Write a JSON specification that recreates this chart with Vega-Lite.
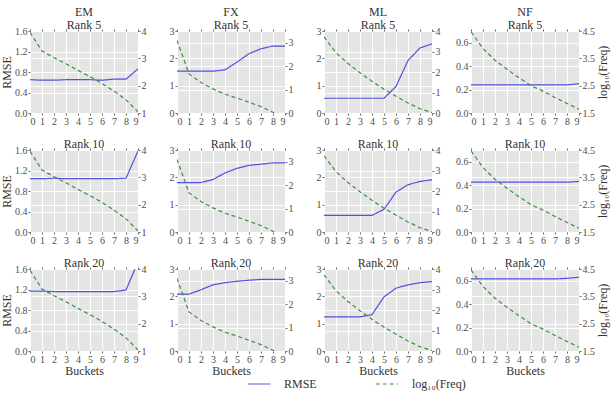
{
"$schema":"https://vega.github.io/schema/vega-lite/v6.json",
"padding":{"left":0,"top":6,"right":3,"bottom":3},
"bounds":"flush",
"columns":4,
"spacing":{"row":37,"column":39},
"data":{"values":[
{"m":"EM","r":5,"b":0,"y":0.65,"f":3.95},{"m":"EM","r":5,"b":1,"y":0.64,"f":3.27},{"m":"EM","r":5,"b":2,"y":0.64,"f":3.02},{"m":"EM","r":5,"b":3,"y":0.65,"f":2.8},{"m":"EM","r":5,"b":4,"y":0.65,"f":2.56},{"m":"EM","r":5,"b":5,"y":0.65,"f":2.33},{"m":"EM","r":5,"b":6,"y":0.64,"f":2.08},{"m":"EM","r":5,"b":7,"y":0.66,"f":1.8},{"m":"EM","r":5,"b":8,"y":0.66,"f":1.48},{"m":"EM","r":5,"b":9,"y":0.86,"f":1.04},
{"m":"EM","r":10,"b":0,"y":1.04,"f":3.95},{"m":"EM","r":10,"b":1,"y":1.04,"f":3.27},{"m":"EM","r":10,"b":2,"y":1.05,"f":3.02},{"m":"EM","r":10,"b":3,"y":1.04,"f":2.8},{"m":"EM","r":10,"b":4,"y":1.04,"f":2.56},{"m":"EM","r":10,"b":5,"y":1.04,"f":2.33},{"m":"EM","r":10,"b":6,"y":1.04,"f":2.08},{"m":"EM","r":10,"b":7,"y":1.04,"f":1.8},{"m":"EM","r":10,"b":8,"y":1.05,"f":1.48},{"m":"EM","r":10,"b":9,"y":1.58,"f":1.04},
{"m":"EM","r":20,"b":0,"y":1.17,"f":3.95},{"m":"EM","r":20,"b":1,"y":1.17,"f":3.27},{"m":"EM","r":20,"b":2,"y":1.16,"f":3.02},{"m":"EM","r":20,"b":3,"y":1.16,"f":2.8},{"m":"EM","r":20,"b":4,"y":1.16,"f":2.56},{"m":"EM","r":20,"b":5,"y":1.16,"f":2.33},{"m":"EM","r":20,"b":6,"y":1.16,"f":2.08},{"m":"EM","r":20,"b":7,"y":1.16,"f":1.8},{"m":"EM","r":20,"b":8,"y":1.19,"f":1.48},{"m":"EM","r":20,"b":9,"y":1.74,"f":1.04},
{"m":"FX","r":5,"b":0,"y":1.53,"f":3.1},{"m":"FX","r":5,"b":1,"y":1.53,"f":1.67},{"m":"FX","r":5,"b":2,"y":1.53,"f":1.3},{"m":"FX","r":5,"b":3,"y":1.53,"f":1.03},{"m":"FX","r":5,"b":4,"y":1.58,"f":0.8},{"m":"FX","r":5,"b":5,"y":1.86,"f":0.64},{"m":"FX","r":5,"b":6,"y":2.17,"f":0.46},{"m":"FX","r":5,"b":7,"y":2.35,"f":0.27},{"m":"FX","r":5,"b":8,"y":2.45,"f":0.03},{"m":"FX","r":5,"b":9,"y":2.45,"f":-0.4},
{"m":"FX","r":10,"b":0,"y":1.81,"f":3.1},{"m":"FX","r":10,"b":1,"y":1.81,"f":1.67},{"m":"FX","r":10,"b":2,"y":1.81,"f":1.3},{"m":"FX","r":10,"b":3,"y":1.92,"f":1.03},{"m":"FX","r":10,"b":4,"y":2.16,"f":0.8},{"m":"FX","r":10,"b":5,"y":2.33,"f":0.64},{"m":"FX","r":10,"b":6,"y":2.44,"f":0.46},{"m":"FX","r":10,"b":7,"y":2.48,"f":0.27},{"m":"FX","r":10,"b":8,"y":2.53,"f":0.03},{"m":"FX","r":10,"b":9,"y":2.53,"f":-0.4},
{"m":"FX","r":20,"b":0,"y":2.08,"f":3.1},{"m":"FX","r":20,"b":1,"y":2.08,"f":1.67},{"m":"FX","r":20,"b":2,"y":2.24,"f":1.3},{"m":"FX","r":20,"b":3,"y":2.42,"f":1.03},{"m":"FX","r":20,"b":4,"y":2.5,"f":0.8},{"m":"FX","r":20,"b":5,"y":2.55,"f":0.64},{"m":"FX","r":20,"b":6,"y":2.59,"f":0.46},{"m":"FX","r":20,"b":7,"y":2.62,"f":0.27},{"m":"FX","r":20,"b":8,"y":2.62,"f":0.03},{"m":"FX","r":20,"b":9,"y":2.62,"f":-0.4},
{"m":"ML","r":5,"b":0,"y":0.54,"f":3.72},{"m":"ML","r":5,"b":1,"y":0.54,"f":2.94},{"m":"ML","r":5,"b":2,"y":0.54,"f":2.41},{"m":"ML","r":5,"b":3,"y":0.54,"f":1.96},{"m":"ML","r":5,"b":4,"y":0.54,"f":1.55},{"m":"ML","r":5,"b":5,"y":0.54,"f":1.16},{"m":"ML","r":5,"b":6,"y":0.97,"f":0.82},{"m":"ML","r":5,"b":7,"y":1.92,"f":0.49},{"m":"ML","r":5,"b":8,"y":2.38,"f":0.21},{"m":"ML","r":5,"b":9,"y":2.53,"f":0.02},
{"m":"ML","r":10,"b":0,"y":0.61,"f":3.72},{"m":"ML","r":10,"b":1,"y":0.61,"f":2.94},{"m":"ML","r":10,"b":2,"y":0.61,"f":2.41},{"m":"ML","r":10,"b":3,"y":0.61,"f":1.96},{"m":"ML","r":10,"b":4,"y":0.61,"f":1.55},{"m":"ML","r":10,"b":5,"y":0.83,"f":1.16},{"m":"ML","r":10,"b":6,"y":1.46,"f":0.82},{"m":"ML","r":10,"b":7,"y":1.73,"f":0.49},{"m":"ML","r":10,"b":8,"y":1.85,"f":0.21},{"m":"ML","r":10,"b":9,"y":1.91,"f":0.02},
{"m":"ML","r":20,"b":0,"y":1.25,"f":3.72},{"m":"ML","r":20,"b":1,"y":1.25,"f":2.94},{"m":"ML","r":20,"b":2,"y":1.25,"f":2.41},{"m":"ML","r":20,"b":3,"y":1.25,"f":1.96},{"m":"ML","r":20,"b":4,"y":1.33,"f":1.55},{"m":"ML","r":20,"b":5,"y":1.98,"f":1.16},{"m":"ML","r":20,"b":6,"y":2.3,"f":0.82},{"m":"ML","r":20,"b":7,"y":2.42,"f":0.49},{"m":"ML","r":20,"b":8,"y":2.5,"f":0.21},{"m":"ML","r":20,"b":9,"y":2.54,"f":0.02},
{"m":"NF","r":5,"b":0,"y":0.24,"f":4.47},{"m":"NF","r":5,"b":1,"y":0.24,"f":3.86},{"m":"NF","r":5,"b":2,"y":0.24,"f":3.43},{"m":"NF","r":5,"b":3,"y":0.24,"f":3.1},{"m":"NF","r":5,"b":4,"y":0.24,"f":2.79},{"m":"NF","r":5,"b":5,"y":0.24,"f":2.5},{"m":"NF","r":5,"b":6,"y":0.24,"f":2.3},{"m":"NF","r":5,"b":7,"y":0.24,"f":2.07},{"m":"NF","r":5,"b":8,"y":0.24,"f":1.85},{"m":"NF","r":5,"b":9,"y":0.25,"f":1.64},
{"m":"NF","r":10,"b":0,"y":0.425,"f":4.47},{"m":"NF","r":10,"b":1,"y":0.425,"f":3.86},{"m":"NF","r":10,"b":2,"y":0.425,"f":3.43},{"m":"NF","r":10,"b":3,"y":0.425,"f":3.1},{"m":"NF","r":10,"b":4,"y":0.425,"f":2.79},{"m":"NF","r":10,"b":5,"y":0.425,"f":2.5},{"m":"NF","r":10,"b":6,"y":0.425,"f":2.3},{"m":"NF","r":10,"b":7,"y":0.425,"f":2.07},{"m":"NF","r":10,"b":8,"y":0.425,"f":1.85},{"m":"NF","r":10,"b":9,"y":0.432,"f":1.64},
{"m":"NF","r":20,"b":0,"y":0.615,"f":4.47},{"m":"NF","r":20,"b":1,"y":0.615,"f":3.86},{"m":"NF","r":20,"b":2,"y":0.615,"f":3.43},{"m":"NF","r":20,"b":3,"y":0.615,"f":3.1},{"m":"NF","r":20,"b":4,"y":0.615,"f":2.79},{"m":"NF","r":20,"b":5,"y":0.615,"f":2.5},{"m":"NF","r":20,"b":6,"y":0.615,"f":2.3},{"m":"NF","r":20,"b":7,"y":0.615,"f":2.07},{"m":"NF","r":20,"b":8,"y":0.62,"f":1.85},{"m":"NF","r":20,"b":9,"y":0.63,"f":1.64}
]},
"concat":[
{"width":108,"height":82,"title":{"text":["EM","Rank 5"]},"transform":[{"filter":"datum.m=='EM' && datum.r==5"}],
 "layer":[
  {"mark":{"type":"line","clip":true},"encoding":{"x":{"field":"b","type":"quantitative","scale":{"domain":[0,9],"nice":false},"axis":{"values":[0,1,2,3,4,5,6,7,8,9],"title":null,"grid":true}},"y":{"field":"y","type":"quantitative","scale":{"domain":[0,1.6],"nice":false},"axis":{"values":[0,0.4,0.8,1.2,1.6],"format":".1f","title":"RMSE","grid":true}},"color":{"datum":"RMSE","type":"nominal","scale":{"domain":["RMSE","log₁₀(Freq)"],"range":["#5252dd","#3b8f3b"]},"legend":{"title":null}},"strokeDash":{"datum":"RMSE","type":"nominal","scale":{"domain":["RMSE","log₁₀(Freq)"],"range":[[1,0],[4,3]]},"legend":{"title":null}}}},
  {"mark":{"type":"line","clip":true},"encoding":{"x":{"field":"b","type":"quantitative","scale":{"domain":[0,9],"nice":false},"axis":{"orient":"top","values":[0,1,2,3,4,5,6,7,8,9],"labels":false,"title":null,"grid":false,"tickSize":2}},"y":{"field":"f","type":"quantitative","scale":{"domain":[1,4],"nice":false,"zero":false},"axis":{"orient":"right","values":[1,2,3,4],"title":null,"grid":true}},"color":{"datum":"log₁₀(Freq)","type":"nominal","legend":{"title":null}},"strokeDash":{"datum":"log₁₀(Freq)","type":"nominal","legend":{"title":null}}}}
 ],"resolve":{"scale":{"y":"independent"},"axis":{"x":"independent"}}},
{"width":108,"height":82,"title":{"text":["FX","Rank 5"]},"transform":[{"filter":"datum.m=='FX' && datum.r==5"}],
 "layer":[
  {"mark":{"type":"line","clip":true},"encoding":{"x":{"field":"b","type":"quantitative","scale":{"domain":[0,9],"nice":false},"axis":{"values":[0,1,2,3,4,5,6,7,8,9],"title":null,"grid":true}},"y":{"field":"y","type":"quantitative","scale":{"domain":[0,3],"nice":false},"axis":{"values":[0,1,2,3],"title":null,"grid":true}},"color":{"datum":"RMSE","type":"nominal","legend":{"title":null}},"strokeDash":{"datum":"RMSE","type":"nominal","legend":{"title":null}}}},
  {"mark":{"type":"line","clip":true},"encoding":{"x":{"field":"b","type":"quantitative","scale":{"domain":[0,9],"nice":false},"axis":{"orient":"top","values":[0,1,2,3,4,5,6,7,8,9],"labels":false,"title":null,"grid":false,"tickSize":2}},"y":{"field":"f","type":"quantitative","scale":{"domain":[0,3.5],"nice":false,"zero":false},"axis":{"orient":"right","values":[0,1,2,3],"title":null,"grid":true}},"color":{"datum":"log₁₀(Freq)","type":"nominal","legend":{"title":null}},"strokeDash":{"datum":"log₁₀(Freq)","type":"nominal","legend":{"title":null}}}}
 ],"resolve":{"scale":{"y":"independent"},"axis":{"x":"independent"}}},
{"width":108,"height":82,"title":{"text":["ML","Rank 5"]},"transform":[{"filter":"datum.m=='ML' && datum.r==5"}],
 "layer":[
  {"mark":{"type":"line","clip":true},"encoding":{"x":{"field":"b","type":"quantitative","scale":{"domain":[0,9],"nice":false},"axis":{"values":[0,1,2,3,4,5,6,7,8,9],"title":null,"grid":true}},"y":{"field":"y","type":"quantitative","scale":{"domain":[0,3],"nice":false},"axis":{"values":[0,1,2,3],"title":null,"grid":true}},"color":{"datum":"RMSE","type":"nominal","legend":{"title":null}},"strokeDash":{"datum":"RMSE","type":"nominal","legend":{"title":null}}}},
  {"mark":{"type":"line","clip":true},"encoding":{"x":{"field":"b","type":"quantitative","scale":{"domain":[0,9],"nice":false},"axis":{"orient":"top","values":[0,1,2,3,4,5,6,7,8,9],"labels":false,"title":null,"grid":false,"tickSize":2}},"y":{"field":"f","type":"quantitative","scale":{"domain":[0,4],"nice":false,"zero":false},"axis":{"orient":"right","values":[0,1,2,3,4],"title":null,"grid":true}},"color":{"datum":"log₁₀(Freq)","type":"nominal","legend":{"title":null}},"strokeDash":{"datum":"log₁₀(Freq)","type":"nominal","legend":{"title":null}}}}
 ],"resolve":{"scale":{"y":"independent"},"axis":{"x":"independent"}}},
{"width":108,"height":82,"title":{"text":["NF","Rank 5"]},"transform":[{"filter":"datum.m=='NF' && datum.r==5"}],
 "layer":[
  {"mark":{"type":"line","clip":true},"encoding":{"x":{"field":"b","type":"quantitative","scale":{"domain":[0,9],"nice":false},"axis":{"values":[0,1,2,3,4,5,6,7,8,9],"title":null,"grid":true}},"y":{"field":"y","type":"quantitative","scale":{"domain":[0,0.7],"nice":false},"axis":{"values":[0,0.2,0.4,0.6],"format":".1f","title":null,"grid":true}},"color":{"datum":"RMSE","type":"nominal","legend":{"title":null}},"strokeDash":{"datum":"RMSE","type":"nominal","legend":{"title":null}}}},
  {"mark":{"type":"line","clip":true},"encoding":{"x":{"field":"b","type":"quantitative","scale":{"domain":[0,9],"nice":false},"axis":{"orient":"top","values":[0,1,2,3,4,5,6,7,8,9],"labels":false,"title":null,"grid":false,"tickSize":2}},"y":{"field":"f","type":"quantitative","scale":{"domain":[1.5,4.5],"nice":false,"zero":false},"axis":{"orient":"right","values":[1.5,2.5,3.5,4.5],"format":".1f","title":"log₁₀(Freq)","titleAngle":270,"titleBaseline":"top","titlePadding":3,"grid":true}},"color":{"datum":"log₁₀(Freq)","type":"nominal","legend":{"title":null}},"strokeDash":{"datum":"log₁₀(Freq)","type":"nominal","legend":{"title":null}}}}
 ],"resolve":{"scale":{"y":"independent"},"axis":{"x":"independent"}}},

{"width":108,"height":82,"title":{"text":"Rank 10"},"transform":[{"filter":"datum.m=='EM' && datum.r==10"}],
 "layer":[
  {"mark":{"type":"line","clip":true},"encoding":{"x":{"field":"b","type":"quantitative","scale":{"domain":[0,9],"nice":false},"axis":{"values":[0,1,2,3,4,5,6,7,8,9],"title":null,"grid":true}},"y":{"field":"y","type":"quantitative","scale":{"domain":[0,1.6],"nice":false},"axis":{"values":[0,0.4,0.8,1.2,1.6],"format":".1f","title":"RMSE","grid":true}},"color":{"datum":"RMSE","type":"nominal","legend":{"title":null}},"strokeDash":{"datum":"RMSE","type":"nominal","legend":{"title":null}}}},
  {"mark":{"type":"line","clip":true},"encoding":{"x":{"field":"b","type":"quantitative","scale":{"domain":[0,9],"nice":false},"axis":{"orient":"top","values":[0,1,2,3,4,5,6,7,8,9],"labels":false,"title":null,"grid":false,"tickSize":2}},"y":{"field":"f","type":"quantitative","scale":{"domain":[1,4],"nice":false,"zero":false},"axis":{"orient":"right","values":[1,2,3,4],"title":null,"grid":true}},"color":{"datum":"log₁₀(Freq)","type":"nominal","legend":{"title":null}},"strokeDash":{"datum":"log₁₀(Freq)","type":"nominal","legend":{"title":null}}}}
 ],"resolve":{"scale":{"y":"independent"},"axis":{"x":"independent"}}},
{"width":108,"height":82,"title":{"text":"Rank 10"},"transform":[{"filter":"datum.m=='FX' && datum.r==10"}],
 "layer":[
  {"mark":{"type":"line","clip":true},"encoding":{"x":{"field":"b","type":"quantitative","scale":{"domain":[0,9],"nice":false},"axis":{"values":[0,1,2,3,4,5,6,7,8,9],"title":null,"grid":true}},"y":{"field":"y","type":"quantitative","scale":{"domain":[0,3],"nice":false},"axis":{"values":[0,1,2,3],"title":null,"grid":true}},"color":{"datum":"RMSE","type":"nominal","legend":{"title":null}},"strokeDash":{"datum":"RMSE","type":"nominal","legend":{"title":null}}}},
  {"mark":{"type":"line","clip":true},"encoding":{"x":{"field":"b","type":"quantitative","scale":{"domain":[0,9],"nice":false},"axis":{"orient":"top","values":[0,1,2,3,4,5,6,7,8,9],"labels":false,"title":null,"grid":false,"tickSize":2}},"y":{"field":"f","type":"quantitative","scale":{"domain":[0,3.5],"nice":false,"zero":false},"axis":{"orient":"right","values":[0,1,2,3],"title":null,"grid":true}},"color":{"datum":"log₁₀(Freq)","type":"nominal","legend":{"title":null}},"strokeDash":{"datum":"log₁₀(Freq)","type":"nominal","legend":{"title":null}}}}
 ],"resolve":{"scale":{"y":"independent"},"axis":{"x":"independent"}}},
{"width":108,"height":82,"title":{"text":"Rank 10"},"transform":[{"filter":"datum.m=='ML' && datum.r==10"}],
 "layer":[
  {"mark":{"type":"line","clip":true},"encoding":{"x":{"field":"b","type":"quantitative","scale":{"domain":[0,9],"nice":false},"axis":{"values":[0,1,2,3,4,5,6,7,8,9],"title":null,"grid":true}},"y":{"field":"y","type":"quantitative","scale":{"domain":[0,3],"nice":false},"axis":{"values":[0,1,2,3],"title":null,"grid":true}},"color":{"datum":"RMSE","type":"nominal","legend":{"title":null}},"strokeDash":{"datum":"RMSE","type":"nominal","legend":{"title":null}}}},
  {"mark":{"type":"line","clip":true},"encoding":{"x":{"field":"b","type":"quantitative","scale":{"domain":[0,9],"nice":false},"axis":{"orient":"top","values":[0,1,2,3,4,5,6,7,8,9],"labels":false,"title":null,"grid":false,"tickSize":2}},"y":{"field":"f","type":"quantitative","scale":{"domain":[0,4],"nice":false,"zero":false},"axis":{"orient":"right","values":[0,1,2,3,4],"title":null,"grid":true}},"color":{"datum":"log₁₀(Freq)","type":"nominal","legend":{"title":null}},"strokeDash":{"datum":"log₁₀(Freq)","type":"nominal","legend":{"title":null}}}}
 ],"resolve":{"scale":{"y":"independent"},"axis":{"x":"independent"}}},
{"width":108,"height":82,"title":{"text":"Rank 10"},"transform":[{"filter":"datum.m=='NF' && datum.r==10"}],
 "layer":[
  {"mark":{"type":"line","clip":true},"encoding":{"x":{"field":"b","type":"quantitative","scale":{"domain":[0,9],"nice":false},"axis":{"values":[0,1,2,3,4,5,6,7,8,9],"title":null,"grid":true}},"y":{"field":"y","type":"quantitative","scale":{"domain":[0,0.7],"nice":false},"axis":{"values":[0,0.2,0.4,0.6],"format":".1f","title":null,"grid":true}},"color":{"datum":"RMSE","type":"nominal","legend":{"title":null}},"strokeDash":{"datum":"RMSE","type":"nominal","legend":{"title":null}}}},
  {"mark":{"type":"line","clip":true},"encoding":{"x":{"field":"b","type":"quantitative","scale":{"domain":[0,9],"nice":false},"axis":{"orient":"top","values":[0,1,2,3,4,5,6,7,8,9],"labels":false,"title":null,"grid":false,"tickSize":2}},"y":{"field":"f","type":"quantitative","scale":{"domain":[1.5,4.5],"nice":false,"zero":false},"axis":{"orient":"right","values":[1.5,2.5,3.5,4.5],"format":".1f","title":"log₁₀(Freq)","titleAngle":270,"titleBaseline":"top","titlePadding":3,"grid":true}},"color":{"datum":"log₁₀(Freq)","type":"nominal","legend":{"title":null}},"strokeDash":{"datum":"log₁₀(Freq)","type":"nominal","legend":{"title":null}}}}
 ],"resolve":{"scale":{"y":"independent"},"axis":{"x":"independent"}}},

{"width":108,"height":82,"title":{"text":"Rank 20"},"transform":[{"filter":"datum.m=='EM' && datum.r==20"}],
 "layer":[
  {"mark":{"type":"line","clip":true},"encoding":{"x":{"field":"b","type":"quantitative","scale":{"domain":[0,9],"nice":false},"axis":{"values":[0,1,2,3,4,5,6,7,8,9],"title":"Buckets","grid":true}},"y":{"field":"y","type":"quantitative","scale":{"domain":[0,1.6],"nice":false},"axis":{"values":[0,0.4,0.8,1.2,1.6],"format":".1f","title":"RMSE","grid":true}},"color":{"datum":"RMSE","type":"nominal","legend":{"title":null}},"strokeDash":{"datum":"RMSE","type":"nominal","legend":{"title":null}}}},
  {"mark":{"type":"line","clip":true},"encoding":{"x":{"field":"b","type":"quantitative","scale":{"domain":[0,9],"nice":false},"axis":{"orient":"top","values":[0,1,2,3,4,5,6,7,8,9],"labels":false,"title":null,"grid":false,"tickSize":2}},"y":{"field":"f","type":"quantitative","scale":{"domain":[1,4],"nice":false,"zero":false},"axis":{"orient":"right","values":[1,2,3,4],"title":null,"grid":true}},"color":{"datum":"log₁₀(Freq)","type":"nominal","legend":{"title":null}},"strokeDash":{"datum":"log₁₀(Freq)","type":"nominal","legend":{"title":null}}}}
 ],"resolve":{"scale":{"y":"independent"},"axis":{"x":"independent"}}},
{"width":108,"height":82,"title":{"text":"Rank 20"},"transform":[{"filter":"datum.m=='FX' && datum.r==20"}],
 "layer":[
  {"mark":{"type":"line","clip":true},"encoding":{"x":{"field":"b","type":"quantitative","scale":{"domain":[0,9],"nice":false},"axis":{"values":[0,1,2,3,4,5,6,7,8,9],"title":"Buckets","grid":true}},"y":{"field":"y","type":"quantitative","scale":{"domain":[0,3],"nice":false},"axis":{"values":[0,1,2,3],"title":null,"grid":true}},"color":{"datum":"RMSE","type":"nominal","legend":{"title":null}},"strokeDash":{"datum":"RMSE","type":"nominal","legend":{"title":null}}}},
  {"mark":{"type":"line","clip":true},"encoding":{"x":{"field":"b","type":"quantitative","scale":{"domain":[0,9],"nice":false},"axis":{"orient":"top","values":[0,1,2,3,4,5,6,7,8,9],"labels":false,"title":null,"grid":false,"tickSize":2}},"y":{"field":"f","type":"quantitative","scale":{"domain":[0,3.5],"nice":false,"zero":false},"axis":{"orient":"right","values":[0,1,2,3],"title":null,"grid":true}},"color":{"datum":"log₁₀(Freq)","type":"nominal","legend":{"title":null}},"strokeDash":{"datum":"log₁₀(Freq)","type":"nominal","legend":{"title":null}}}}
 ],"resolve":{"scale":{"y":"independent"},"axis":{"x":"independent"}}},
{"width":108,"height":82,"title":{"text":"Rank 20"},"transform":[{"filter":"datum.m=='ML' && datum.r==20"}],
 "layer":[
  {"mark":{"type":"line","clip":true},"encoding":{"x":{"field":"b","type":"quantitative","scale":{"domain":[0,9],"nice":false},"axis":{"values":[0,1,2,3,4,5,6,7,8,9],"title":"Buckets","grid":true}},"y":{"field":"y","type":"quantitative","scale":{"domain":[0,3],"nice":false},"axis":{"values":[0,1,2,3],"title":null,"grid":true}},"color":{"datum":"RMSE","type":"nominal","legend":{"title":null}},"strokeDash":{"datum":"RMSE","type":"nominal","legend":{"title":null}}}},
  {"mark":{"type":"line","clip":true},"encoding":{"x":{"field":"b","type":"quantitative","scale":{"domain":[0,9],"nice":false},"axis":{"orient":"top","values":[0,1,2,3,4,5,6,7,8,9],"labels":false,"title":null,"grid":false,"tickSize":2}},"y":{"field":"f","type":"quantitative","scale":{"domain":[0,4],"nice":false,"zero":false},"axis":{"orient":"right","values":[0,1,2,3,4],"title":null,"grid":true}},"color":{"datum":"log₁₀(Freq)","type":"nominal","legend":{"title":null}},"strokeDash":{"datum":"log₁₀(Freq)","type":"nominal","legend":{"title":null}}}}
 ],"resolve":{"scale":{"y":"independent"},"axis":{"x":"independent"}}},
{"width":108,"height":82,"title":{"text":"Rank 20"},"transform":[{"filter":"datum.m=='NF' && datum.r==20"}],
 "layer":[
  {"mark":{"type":"line","clip":true},"encoding":{"x":{"field":"b","type":"quantitative","scale":{"domain":[0,9],"nice":false},"axis":{"values":[0,1,2,3,4,5,6,7,8,9],"title":"Buckets","grid":true}},"y":{"field":"y","type":"quantitative","scale":{"domain":[0,0.7],"nice":false},"axis":{"values":[0,0.2,0.4,0.6],"format":".1f","title":null,"grid":true}},"color":{"datum":"RMSE","type":"nominal","legend":{"title":null}},"strokeDash":{"datum":"RMSE","type":"nominal","legend":{"title":null}}}},
  {"mark":{"type":"line","clip":true},"encoding":{"x":{"field":"b","type":"quantitative","scale":{"domain":[0,9],"nice":false},"axis":{"orient":"top","values":[0,1,2,3,4,5,6,7,8,9],"labels":false,"title":null,"grid":false,"tickSize":2}},"y":{"field":"f","type":"quantitative","scale":{"domain":[1.5,4.5],"nice":false,"zero":false},"axis":{"orient":"right","values":[1.5,2.5,3.5,4.5],"format":".1f","title":"log₁₀(Freq)","titleAngle":270,"titleBaseline":"top","titlePadding":3,"grid":true}},"color":{"datum":"log₁₀(Freq)","type":"nominal","legend":{"title":null}},"strokeDash":{"datum":"log₁₀(Freq)","type":"nominal","legend":{"title":null}}}}
 ],"resolve":{"scale":{"y":"independent"},"axis":{"x":"independent"}}}
],
"resolve":{"scale":{"color":"shared","strokeDash":"shared"},"legend":{"color":"shared","strokeDash":"shared"}},
"config":{
 "font":"Liberation Serif",
 "view":{"fill":"#e5e5e5","stroke":null},
 "line":{"strokeWidth":1.2},
 "axis":{"labelFont":"Liberation Serif","labelFontSize":10,"labelColor":"#4d4d4d","tickColor":"#666666","tickSize":2,"domain":false,"gridColor":"#ffffff","gridWidth":1,"titleFont":"Liberation Serif","titleFontSize":12,"titleFontWeight":"normal","titleColor":"#333333","labelPadding":1,"titlePadding":1},
 "title":{"font":"Liberation Serif","fontSize":12,"fontWeight":"normal","color":"#333333","offset":-6,"lineHeight":13},
 "legend":{"orient":"none","legendX":217,"legendY":341,"direction":"horizontal","symbolType":"stroke","symbolSize":500,"symbolStrokeWidth":1.2,"labelFont":"Liberation Serif","labelFontSize":12,"labelColor":"#333333","columnPadding":56,"labelOffset":13}
}
}
